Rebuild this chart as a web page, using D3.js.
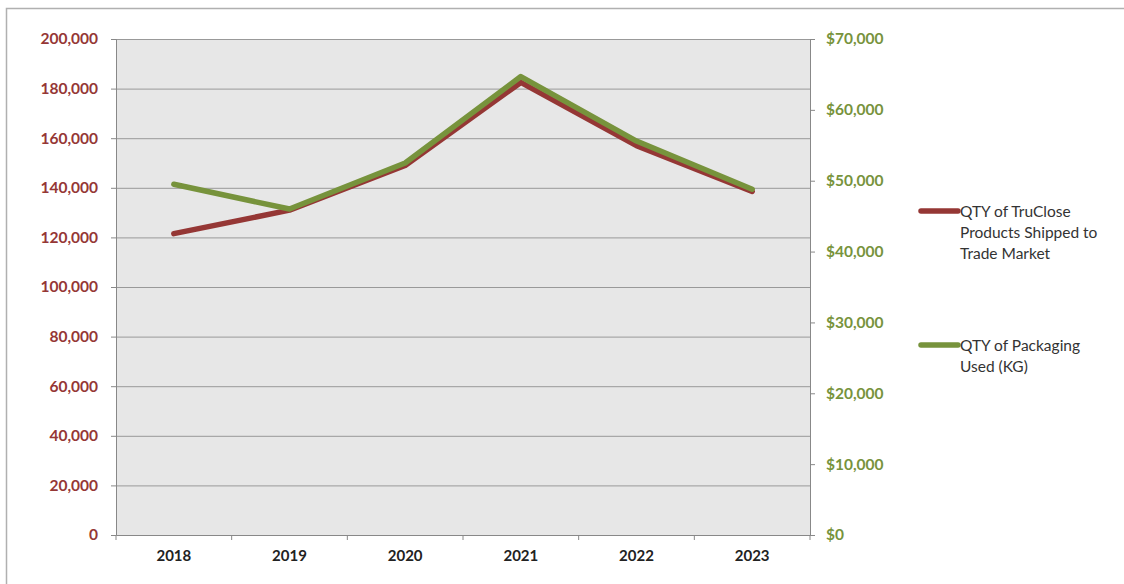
<!DOCTYPE html>
<html><head><meta charset="utf-8">
<script src="https://cdn.jsdelivr.net/npm/d3@7"></script>
<style>body{margin:0;background:#fff}svg{display:block}</style>
</head><body>
<svg id="c" width="1124" height="584"></svg>
<script>
const years = ["2018","2019","2020","2021","2022","2023"];
const productsShipped = [121500, 131000, 149000, 182500, 157000, 138500];
const packagingUsed = [49500, 46000, 52500, 64700, 55600, 48800];
const leftTicks = [0,20000,40000,60000,80000,100000,120000,140000,160000,180000,200000];
const rightTicks = [0,10000,20000,30000,40000,50000,60000,70000];
const seriesNames = ["QTY of TruClose Products Shipped to Trade Market", "QTY of Packaging Used (KG)"];
const legendLines = [["QTY of TruClose","Products Shipped to","Trade Market"],["QTY of Packaging","Used (KG)"]];

const red = "#953735", green = "#77933c";
const svg = d3.select("#c");
const font = "Lato, 'Open Sans', sans-serif";

// outer border
svg.append("rect").attr("x",6.5).attr("y",8.5).attr("width",1130).attr("height",590)
  .attr("fill","#fff").attr("stroke","#b0b0b0").attr("stroke-width",1.5);

const L=116, R=810, T=39, B=535;
const x = d3.scaleBand().domain(years).range([L,R]);
const yL = d3.scaleLinear().domain([0,200000]).range([B,T]);
const yR = d3.scaleLinear().domain([0,70000]).range([B,T]);

svg.append("rect").attr("x",L).attr("y",T).attr("width",R-L).attr("height",B-T).attr("fill","#e7e7e7");

// gridlines
svg.append("g").selectAll("line").data(leftTicks.filter(d=>d>0)).join("line")
  .attr("x1",L).attr("x2",R).attr("y1",d=>yL(d)+0.5).attr("y2",d=>yL(d)+0.5)
  .attr("stroke","#999").attr("stroke-width",1);

// left axis
const gL = svg.append("g").attr("transform",`translate(${L},0)`)
  .call(d3.axisLeft(yL).tickValues(leftTicks).tickSize(5).tickPadding(13).tickFormat(d3.format(",")));
gL.select(".domain").attr("stroke","#888");
gL.selectAll(".tick line").attr("stroke","#888");
gL.selectAll("text").attr("fill",red).style("font-family",font).style("font-weight","bold").style("font-size","15.5px");

// right axis
const gR = svg.append("g").attr("transform",`translate(${R},0)`)
  .call(d3.axisRight(yR).tickValues(rightTicks).tickSize(5).tickPadding(11).tickFormat(d=>"$"+d3.format(",")(d)));
gR.select(".domain").attr("stroke","#888");
gR.selectAll(".tick line").attr("stroke","#888");
gR.selectAll("text").attr("fill",green).style("font-family",font).style("font-weight","bold").style("font-size","15.5px");

// bottom axis
const gB = svg.append("g").attr("transform",`translate(0,${B})`)
  .call(d3.axisBottom(x).tickSize(0).tickPadding(15));
gB.select(".domain").attr("stroke","#888");
gB.selectAll("text").attr("fill","#222").style("font-family",font).style("font-weight","bold").style("font-size","15px");
// category boundary ticks
const bounds = years.map(d=>x(d)).concat([R]);
gB.append("g").selectAll("line").data(bounds).join("line")
  .attr("x1",d=>d).attr("x2",d=>d).attr("y1",0).attr("y2",5).attr("stroke","#888");

const cx = d => x(d)+x.bandwidth()/2;
const lineL = d3.line().x((d,i)=>cx(years[i])).y(d=>yL(d));
const lineR = d3.line().x((d,i)=>cx(years[i])).y(d=>yR(d));

svg.append("path").datum(productsShipped).attr("d",lineL).attr("fill","none")
  .attr("stroke",red).attr("stroke-width",5.5).attr("stroke-linecap","round").attr("stroke-linejoin","round");
svg.append("path").datum(packagingUsed).attr("d",lineR).attr("fill","none")
  .attr("stroke",green).attr("stroke-width",5.5).attr("stroke-linecap","round").attr("stroke-linejoin","round");

// legend
const legY = [211, 345];
const colors = [red, green];
legendLines.forEach((lines,i)=>{
  const g = svg.append("g").attr("class","legend");
  g.append("line").attr("x1",921).attr("x2",958).attr("y1",legY[i]).attr("y2",legY[i])
    .attr("stroke",colors[i]).attr("stroke-width",5.5).attr("stroke-linecap","round");
  const t = g.append("text").attr("x",960).attr("y",legY[i]+5.5)
    .style("font-family",font).style("font-size","15.5px").attr("fill","#333");
  lines.forEach((ln,j)=>t.append("tspan").attr("x",960).attr("dy",j?21:0).text(ln));
});
</script>
</body></html>
